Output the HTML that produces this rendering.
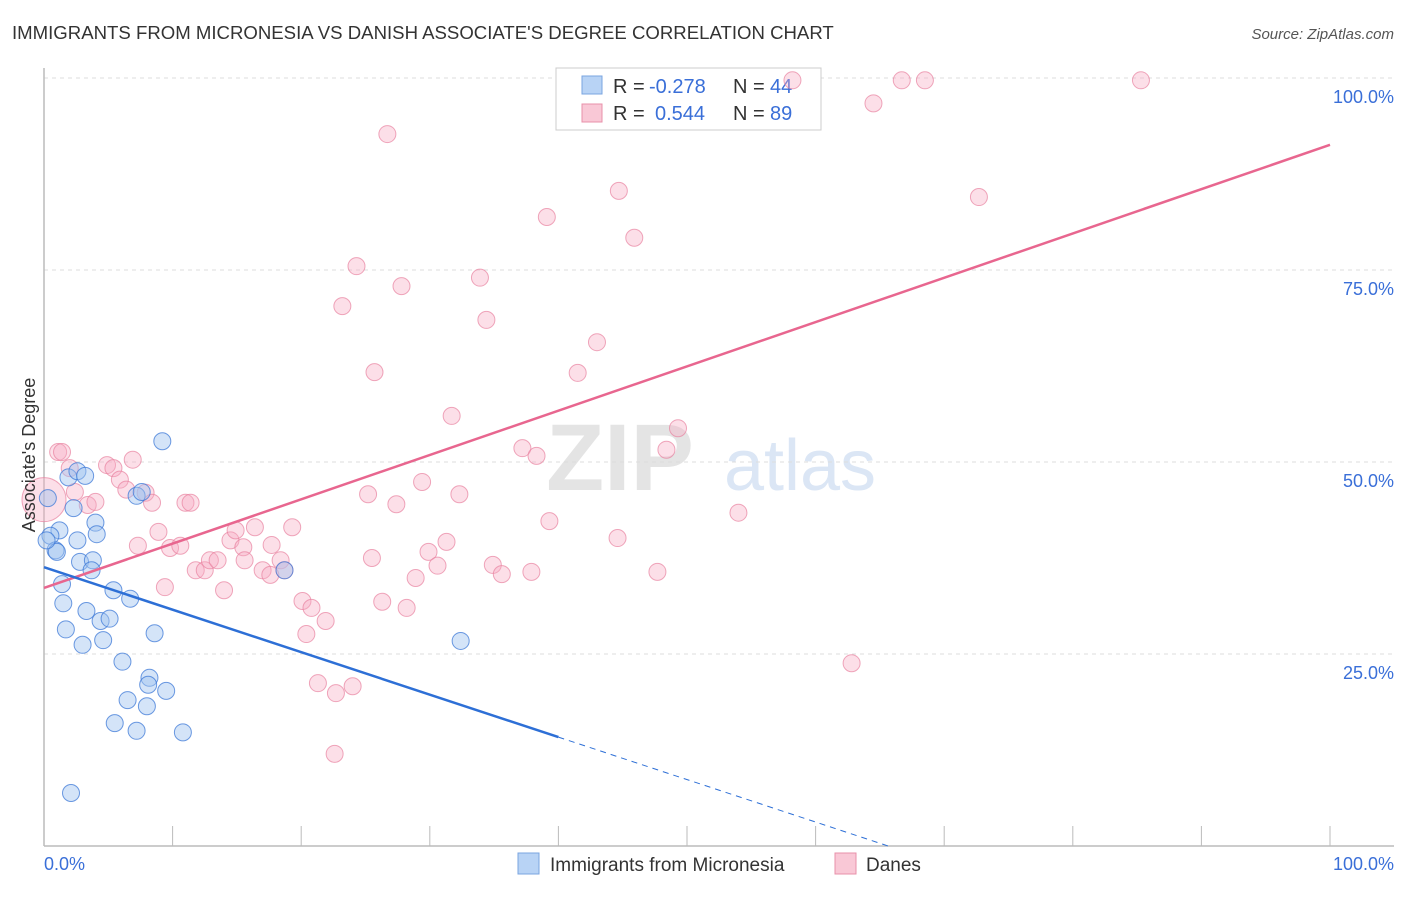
<!DOCTYPE html>
<html><head><meta charset="utf-8"><style>
body{margin:0;background:#fff;font-family:"Liberation Sans",sans-serif}
svg text{font-family:"Liberation Sans",sans-serif}
</style></head><body>
<svg id="c" width="1406" height="892">
<text x="12" y="39" font-size="18.6" fill="#333">IMMIGRANTS FROM MICRONESIA VS DANISH ASSOCIATE'S DEGREE CORRELATION CHART</text>
<text x="1394" y="39" font-size="15" fill="#555" text-anchor="end" font-style="italic">Source: ZipAtlas.com</text>
<text x="620" y="490" font-size="95" fill="#e4e4e4" font-family="Liberation Serif" font-weight="bold" text-anchor="middle">ZIP</text>
<text x="800" y="490" font-size="72" fill="#dbe6f5" text-anchor="middle">atlas</text>
<g id="grid"></g>
<g>
<rect x="556" y="68" width="265" height="62" fill="#fff" stroke="#ccc"/>
<rect x="582" y="76" width="20" height="18" fill="#b8d3f5" stroke="#7aa4e0"/>
<rect x="582" y="104" width="20" height="18" fill="#f9c8d6" stroke="#e890aa"/>
<text x="613" y="93" font-size="20" fill="#333">R =</text>
<text x="649" y="93" font-size="20" fill="#3a6fd8">-0.278</text>
<text x="733" y="93" font-size="20" fill="#333">N =</text>
<text x="770" y="93" font-size="20" fill="#3a6fd8">44</text>
<text x="613" y="120" font-size="20" fill="#333">R =</text>
<text x="655" y="120" font-size="20" fill="#3a6fd8">0.544</text>
<text x="733" y="120" font-size="20" fill="#333">N =</text>
<text x="770" y="120" font-size="20" fill="#3a6fd8">89</text>
</g>
<g id="pts"></g>
<g id="lines"></g>
<text transform="translate(35,455) rotate(-90)" font-size="18" fill="#333" text-anchor="middle">Associate's Degree</text>
<text x="44" y="870" font-size="18" fill="#3a6fd8">0.0%</text>
<text x="1394" y="870" font-size="18" fill="#3a6fd8" text-anchor="end">100.0%</text>
<g>
<rect x="518" y="853" width="21" height="21" fill="#b8d3f5" stroke="#7aa4e0"/>
<text x="550" y="871" font-size="19" fill="#333">Immigrants from Micronesia</text>
<rect x="835" y="853" width="21" height="21" fill="#f9c8d6" stroke="#e890aa"/>
<text x="866" y="871" font-size="19" fill="#333">Danes</text>
</g>
</svg>
<script>
const blueX=[9.2,1.9,2.6,3.2,2.3,0.3,1.2,0.5,0.9,1.0,2.6,4.0,4.1,2.8,3.8,3.7,7.2,7.6,1.4,1.5,3.3,4.4,5.1,5.4,6.7,1.7,3.0,4.6,8.6,6.1,8.2,8.1,9.5,6.5,8.0,5.5,7.2,10.8,2.1,18.7,32.4,0.2];
const blueY=[52.7,48.0,48.8,48.2,44.0,45.3,41.1,40.4,38.5,38.3,39.8,42.1,40.6,37.0,37.2,35.9,45.6,46.1,34.1,31.6,30.6,29.3,29.6,33.3,32.2,28.2,26.2,26.8,27.7,24.0,21.9,21.0,20.2,19.0,18.2,16.0,15.0,14.8,6.9,35.9,26.7,39.8];
const pinkX=[0,1.1,1.4,2.0,2.4,3.4,4.0,4.9,5.4,5.9,6.4,6.9,7.9,8.4,7.3,8.9,9.4,9.8,10.6,11.0,11.4,11.8,12.5,12.9,13.5,14.0,14.5,14.9,15.5,15.6,16.4,17.0,17.6,17.7,18.4,18.7,19.3,20.1,20.4,20.8,21.9,21.3,22.7,24.0,22.6,23.2,24.3,25.7,26.7,27.8,25.2,25.5,26.3,27.4,28.2,28.9,29.4,29.9,30.6,31.3,31.7,32.3,33.9,34.4,34.9,35.6,37.2,37.9,38.3,39.1,39.3,41.5,43.0,44.6,44.7,45.9,48.4,49.3,47.7,54.0,58.2,62.8,64.5,66.7,68.5,72.7,85.3];
const pinkY=[45.1,51.3,51.3,49.2,46.1,44.4,44.8,49.6,49.2,47.7,46.4,50.3,46.0,44.7,39.1,40.9,33.7,38.8,39.1,44.7,44.7,35.9,35.9,37.2,37.2,33.3,39.8,41.1,38.9,37.2,41.5,35.9,35.3,39.2,37.2,35.9,41.5,31.9,27.6,31.0,29.3,21.2,19.9,20.8,12.0,70.3,75.5,61.7,92.7,72.9,45.8,37.5,31.8,44.5,31.0,34.9,47.4,38.3,36.5,39.6,56.0,45.8,74.0,68.5,36.6,35.4,51.8,35.7,50.8,81.9,42.3,61.6,65.6,40.1,85.3,79.2,51.6,54.4,35.7,43.4,99.7,23.8,96.7,99.7,99.7,84.5,99.7];
const blueLine=[36.3,-0.553]; // intercept, slope
const pinkLine=[33.6,0.577];
const yTicks=[25,50,75,100];
const X0=44,X1=1330,Y0=846,Y100=78;
const sx=v=>X0+(X1-X0)*v/100, sy=v=>Y0-(Y0-Y100)*v/100;
const NS='http://www.w3.org/2000/svg';
function mk(t,a,p){const e=document.createElementNS(NS,t);for(const k in a)e.setAttribute(k,a[k]);p.appendChild(e);return e;}
const g=document.getElementById('grid');
yTicks.forEach(t=>{
 const l=mk('line',{x1:X0,x2:1394,y1:sy(t),y2:sy(t),stroke:'#ddd','stroke-dasharray':'4,4'},g);
 
 
 const tx=mk('text',{x:1394,y:sy(t)+25,'font-size':18,fill:'#3a6fd8','text-anchor':'end'},g);
 tx.textContent=t.toFixed(1)+'%';
 
 
});
const ax=mk('line',{x1:X0,x2:X0,y1:68,y2:846,stroke:'#bbb','stroke-width':1.5},g);


const bx=mk('line',{x1:X0,x2:1394,y1:846,y2:846,stroke:'#bbb','stroke-width':1.5},g);


for(let i=0;i<=10;i++){const tk=mk('line',{x1:sx(i*10),x2:sx(i*10),y1:826,y2:846,stroke:'#bbb'},g);
 
 }
const p=document.getElementById('pts');
pinkX.forEach((v,i)=>{const c=mk('circle',{cx:sx(v),cy:sy(pinkY[i]),r:i==0?22:8.5,fill:'rgba(246,170,195,0.38)',stroke:'rgba(232,130,160,0.7)','stroke-width':1},p);
 
 });
blueX.forEach((v,i)=>{const c=mk('circle',{cx:sx(v),cy:sy(blueY[i]),r:8.5,fill:'rgba(160,195,240,0.45)',stroke:'rgba(60,120,215,0.75)','stroke-width':1},p);
 
 });
const L=document.getElementById('lines');
const pl=mk('line',{x1:sx(0),y1:sy(pinkLine[0]),x2:sx(100),y2:sy(pinkLine[0]+pinkLine[1]*100),stroke:'#e8668f','stroke-width':2.5},L);


const bl=mk('line',{x1:sx(0),y1:sy(blueLine[0]),x2:sx(40),y2:sy(blueLine[0]+blueLine[1]*40),stroke:'#2d6fd6','stroke-width':2.5},L);


const xz=-blueLine[0]/blueLine[1];
const bd=mk('line',{x1:sx(40),y1:sy(blueLine[0]+blueLine[1]*40),x2:sx(xz),y2:sy(0),stroke:'#2d6fd6','stroke-width':1,'stroke-dasharray':'6,5'},L);


</script>
</body></html>
